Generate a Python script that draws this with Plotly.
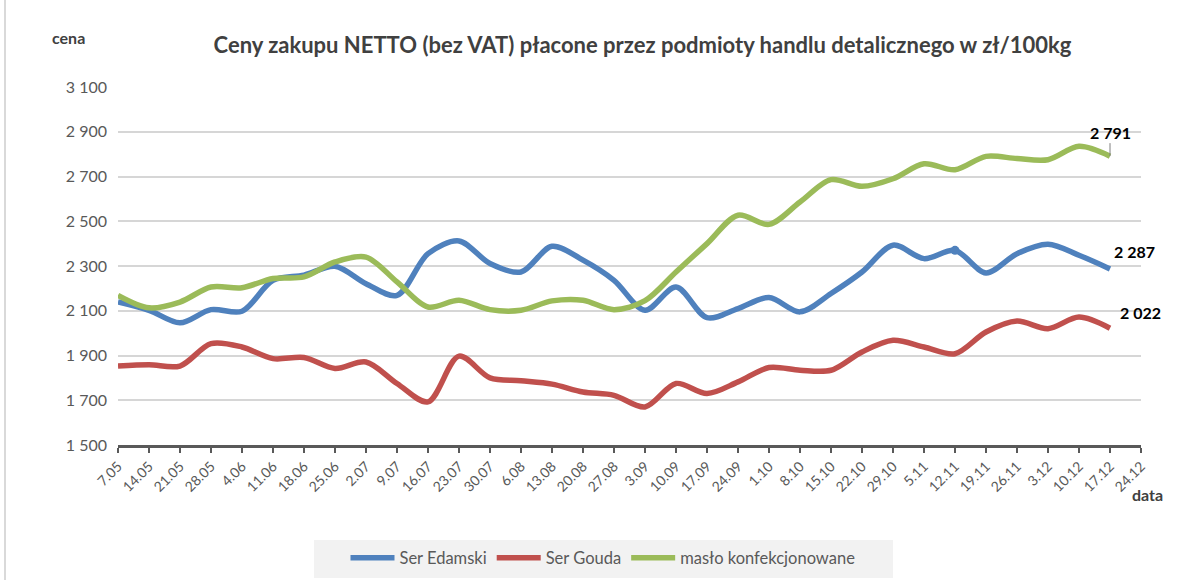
import plotly.graph_objects as go

dates = ["7.05", "14.05", "21.05", "28.05", "4.06", "11.06", "18.06", "25.06", "2.07", "9.07",
         "16.07", "23.07", "30.07", "6.08", "13.08", "20.08", "27.08", "3.09", "10.09", "17.09",
         "24.09", "1.10", "8.10", "15.10", "22.10", "29.10", "5.11", "12.11", "19.11", "26.11",
         "3.12", "10.12", "17.12", "24.12"]

ser_edamski = [2139, 2102, 2046, 2105, 2098, 2236, 2259, 2299, 2221, 2169,
               2355, 2412, 2311, 2273, 2388, 2326, 2236, 2102, 2206, 2069,
               2110, 2159, 2095, 2177, 2273, 2393, 2333, 2370, 2269, 2355,
               2397, 2348, 2287]

ser_gouda = [1853, 1859, 1853, 1953, 1938, 1886, 1891, 1842, 1871, 1775,
             1693, 1897, 1800, 1787, 1772, 1737, 1722, 1670, 1775, 1730,
             1782, 1846, 1834, 1834, 1916, 1968, 1938, 1908, 2005, 2054,
             2020, 2072, 2022]

maslo = [2169, 2113, 2139, 2206, 2203, 2244, 2251, 2318, 2340, 2229,
         2117, 2147, 2105, 2102, 2144, 2147, 2105, 2145, 2273, 2400,
         2527, 2486, 2586, 2686, 2656, 2690, 2757, 2730, 2790, 2780,
         2775, 2835, 2791]

names = ["Ser Edamski", "Ser Gouda", "masło konfekcjonowane"]
colors = ["#4F81BD", "#C0504D", "#9BBB59"]
series = [ser_edamski, ser_gouda, maslo]

y_ticks = [1500, 1700, 1900, 2100, 2300, 2500, 2700, 2900, 3100]

FONT = "Lato"

fig = go.Figure()
for name, col, vals in zip(names, colors, series):
    fig.add_trace(go.Scatter(
        x=dates[:len(vals)], y=vals, name=name, mode="lines",
        line=dict(color=col, width=5.5, shape="spline", smoothing=0.9),
        hoverinfo="x+y+name",
    ))

# single visible marker on Ser Edamski at 12.11
mk = dates.index("12.11")
fig.add_trace(go.Scatter(
    x=[dates[mk]], y=[ser_edamski[mk]], mode="markers", showlegend=False,
    marker=dict(color=colors[0], size=9), hoverinfo="skip"))

def fmt(v):
    return f"{v:,}".replace(",", " ")

last = len(maslo) - 1
lab_font = dict(family=FONT, size=16, color="#000000")
annotations = [
    dict(x=last, y=maslo[last], xref="x", yref="y", text="<b>" + fmt(maslo[last]) + "</b>",
         showarrow=True, arrowhead=0, arrowwidth=1, arrowcolor="#7F7F7F", ax=0, ay=-24,
         xanchor="center", yanchor="middle", font=lab_font),
    dict(x=last, y=ser_edamski[last], xref="x", yref="y", text="<b>" + fmt(ser_edamski[last]) + "</b>",
         showarrow=False, xshift=24, yshift=17, xanchor="center", yanchor="middle", font=lab_font),
    dict(x=last, y=ser_gouda[last], xref="x", yref="y", text="<b>" + fmt(ser_gouda[last]) + "</b>",
         showarrow=False, xshift=30, yshift=16, xanchor="center", yanchor="middle", font=lab_font),
]

L, R, T, B = 118, 51, 87, 135
pw = 1192 - L - R
ph = 580 - T - B

def px_x(p):
    return (p - L) / pw

def px_y(p):
    return (580 - B - p) / ph

annotations += [
    dict(x=px_x(68), y=px_y(38), xref="paper", yref="paper", text="<b>cena</b>", showarrow=False,
         xanchor="center", yanchor="middle", font=dict(family=FONT, size=16, color="#404040")),
    dict(x=px_x(1147), y=px_y(495), xref="paper", yref="paper", text="<b>data</b>", showarrow=False,
         xanchor="center", yanchor="middle", font=dict(family=FONT, size=16, color="#404040")),
]

shapes = [
    # legend background box
    dict(type="rect", xref="paper", yref="paper",
         x0=px_x(314), x1=px_x(893), y0=px_y(578), y1=px_y(540),
         fillcolor="#F2F2F2", line=dict(width=0), layer="below"),
    # chart frame (left edge)
    dict(type="line", xref="paper", yref="paper",
         x0=px_x(5), x1=px_x(5), y0=px_y(580), y1=px_y(0),
         line=dict(color="#D9D9D9", width=2)),
]

fig.update_layout(
    width=1192, height=580,
    margin=dict(l=L, r=R, t=T, b=B, autoexpand=False),
    paper_bgcolor="white", plot_bgcolor="white",
    font=dict(family=FONT, color="#595959"),
    title=dict(text="<b>Ceny zakupu NETTO (bez VAT) płacone przez podmioty handlu detalicznego w zł/100kg</b>",
               x=0.539, xanchor="center", y=1 - 45 / 580, yanchor="middle",
               font=dict(family=FONT, size=22, color="#404040")),
    xaxis=dict(type="category", categoryorder="array", categoryarray=dates,
               range=[0, len(dates) - 1], tickmode="array", tickvals=dates, ticktext=dates,
               tickangle=-45, tickfont=dict(family=FONT, size=14, color="#595959"),
               showgrid=False, showline=True, linecolor="#595959", linewidth=2.5,
               ticks="outside", ticklen=5, tickwidth=2, tickcolor="#595959", zeroline=False,
               automargin=False),
    yaxis=dict(range=[1500, 3100], tickvals=y_ticks, ticktext=[fmt(v) for v in y_ticks],
               tickfont=dict(family=FONT, size=16, color="#595959"), ticklabelstandoff=10,
               showgrid=True, gridcolor="#D6D6D6", gridwidth=1.5, zeroline=False,
               showline=False, ticks="", automargin=False),
    legend=dict(orientation="h", x=px_x(603), xanchor="center", y=px_y(558), yanchor="middle",
                bgcolor="rgba(0,0,0,0)", font=dict(family=FONT, size=16.5, color="#595959"),
                itemwidth=44, tracegroupgap=0),
    annotations=annotations,
    shapes=shapes,
    showlegend=True,
)

fig.write_html("out.html", config={"displayModeBar": False},
               post_script="document.body.style.margin='0';")
